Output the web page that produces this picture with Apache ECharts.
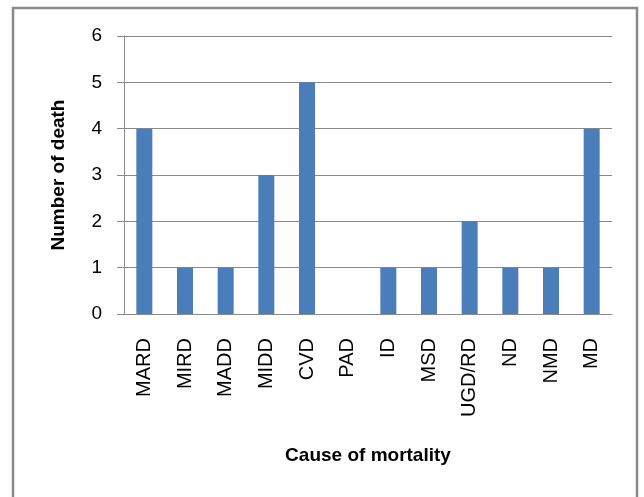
<!DOCTYPE html>
<html>
<head>
<meta charset="utf-8">
<script src="https://cdn.jsdelivr.net/npm/echarts@6/dist/echarts.min.js"></script>
<style>
html,body{margin:0;padding:0;background:#fff;}
#c{width:644px;height:497px;}
</style>
</head>
<body>
<div id="c"></div>
<script>
const categories = ['MARD','MIRD','MADD','MIDD','CVD','PAD','ID','MSD','UGD/RD','ND','NMD','MD'];
const deaths = [4,1,1,3,5,0,1,1,2,1,1,4];
const yTicks = [0,1,2,3,4,5,6];

const chart = echarts.init(document.getElementById('c'), null, {renderer:'canvas'});
const font = 'Liberation Sans';
chart.setOption({
  animation:false,
  backgroundColor:'#fff',
  graphic:[{
    type:'rect', z:-1,
    shape:{x:13,y:8,width:624,height:520},
    style:{fill:'none',stroke:'#8a8a8a',lineWidth:2.5}
  }],
  grid:{left:124,right:32,top:36,bottom:183},
  xAxis:{
    type:'category',
    data:categories,
    name:'Cause of mortality',
    nameLocation:'middle',
    nameGap:132,
    nameTextStyle:{fontFamily:font,fontWeight:'bold',fontSize:19,color:'#000',verticalAlign:'top'},
    axisLine:{lineStyle:{color:'#8a8a8a',width:1}},
    axisTick:{show:false},
    axisLabel:{rotate:90,fontFamily:font,fontSize:20,color:'#000',margin:24,interval:0}
  },
  yAxis:{
    type:'value',
    min:0,max:6,interval:1,
    name:'Number of death',
    nameLocation:'middle',
    nameGap:56,
    nameTextStyle:{fontFamily:font,fontWeight:'bold',fontSize:19,color:'#000'},
    axisLine:{show:true,lineStyle:{color:'#8a8a8a',width:1}},
    axisTick:{show:true,length:7,lineStyle:{color:'#8a8a8a'}},
    splitLine:{lineStyle:{color:'#8a8a8a',width:1}},
    axisLabel:{fontFamily:font,fontSize:19,color:'#000',margin:22,
      formatter:function(v){return yTicks.indexOf(v)>=0?String(v):'';}}
  },
  series:[{
    type:'bar',
    data:deaths,
    barWidth:16,
    itemStyle:{color:'#4A7EBB'}
  }]
});
</script>
</body>
</html>
